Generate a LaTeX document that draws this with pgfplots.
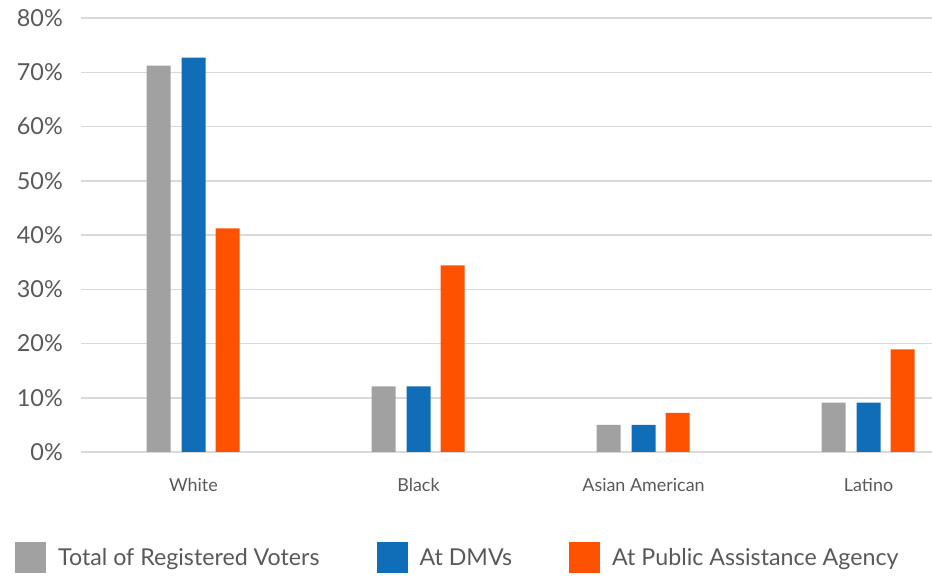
\documentclass[border=0pt]{standalone}
\usepackage{pgfplots}
\pgfplotsset{compat=1.18}
\usepackage{fontspec}
\setmainfont{Lato}
\definecolor{cgray}{HTML}{A0A1A0}
\definecolor{cblue}{HTML}{106EB8}
\definecolor{corange}{HTML}{FF5200}
\definecolor{gridc}{HTML}{D9D9D9}
\definecolor{textc}{HTML}{595959}
\begin{document}
\begin{tikzpicture}
\useasboundingbox (0,0) rectangle (932bp,577bp);
\begin{axis}[
	at={(81bp,125bp)}, anchor=south west,
	scale only axis, width=851bp, height=434bp,
	xmin=-0.5, xmax=3.282, ymin=0, ymax=80,
	ybar, bar width=24bp,
	axis line style={draw=none},
	tick style={draw=none},
	ytick={0,10,...,80},
	yticklabel={\pgfmathprintnumber{\tick}\%},
	/pgf/number format/assume math mode=true,
	ymajorgrids,
	grid style={line width=1.5bp, color=gridc},
	xtick={0,1,2,3},
	xticklabels={White,Black,Asian American,Latino},
	yticklabel style={font=\fontsize{23.5}{26}\selectfont, text=textc, inner sep=0pt, xshift=-18bp},
	xticklabel style={font=\fontsize{18}{21}\selectfont, text=textc, inner sep=0pt, yshift=-22bp},
	legend columns=3,
	legend style={at={(-0.0776,-0.243)}, anchor=west, draw=none, fill=none, inner sep=0pt,
		font=\fontsize{23.3}{27}\selectfont, text=textc,
		/tikz/every even column/.append style={column sep=55bp},
		/tikz/every odd column/.append style={column sep=10bp}},
	legend cell align=left,
]
\addplot[fill=cgray, draw=none, bar shift=-35bp,
	legend image code/.code={\fill[cgray] (0bp,-15.5bp) rectangle (31bp,15.5bp);}]
	coordinates {(0,71.2) (1,12.1) (2,5.0) (3,9.1)};
\addplot[fill=cblue, draw=none, bar shift=0bp,
	legend image code/.code={\fill[cblue] (0bp,-15.5bp) rectangle (31bp,15.5bp);}]
	coordinates {(0,72.7) (1,12.1) (2,5.0) (3,9.1)};
\addplot[fill=corange, draw=none, bar shift=34bp,
	legend image code/.code={\fill[corange] (0bp,-15.5bp) rectangle (31bp,15.5bp);}]
	coordinates {(0,41.2) (1,34.4) (2,7.2) (3,18.9)};
\legend{Total of Registered Voters, At DMVs, At Public Assistance Agency}
\end{axis}
\end{tikzpicture}
\end{document}
